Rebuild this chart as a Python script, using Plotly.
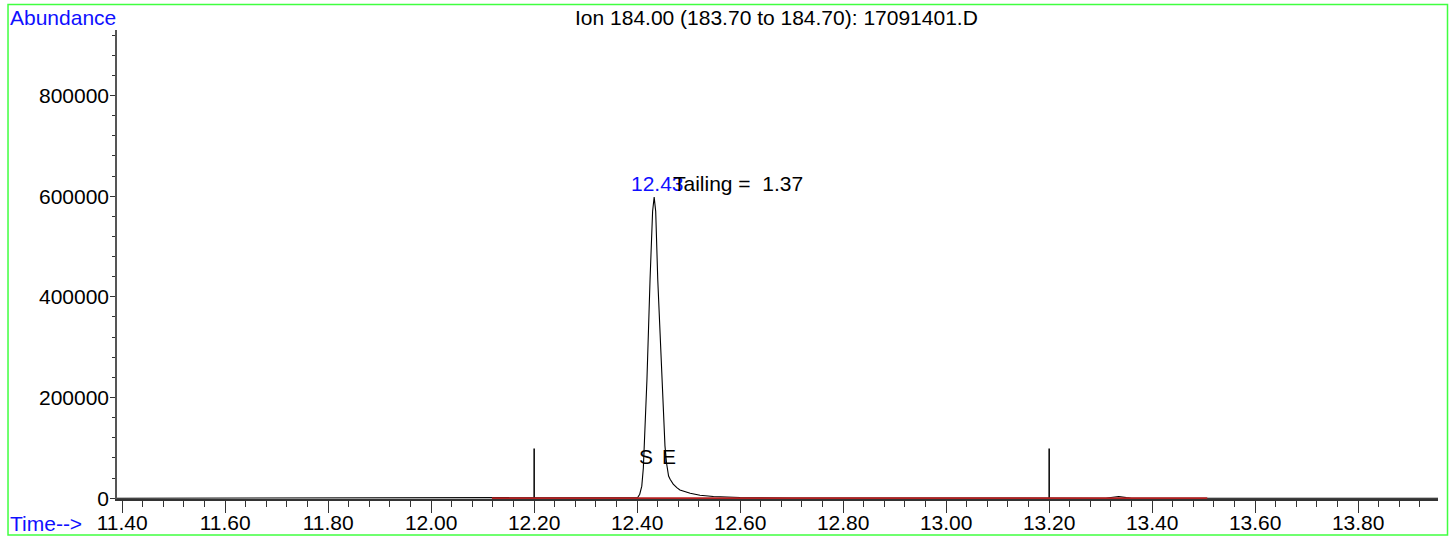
import plotly.graph_objects as go

# ---- data ----
time_min = [11.39, 11.80, 12.10, 12.38, 12.395, 12.401, 12.405, 12.409, 12.412, 12.414,
            12.419, 12.425, 12.430, 12.433, 12.436, 12.440, 12.448, 12.454, 12.457,
            12.461, 12.464, 12.470, 12.477, 12.483, 12.503, 12.522, 12.548, 12.600,
            12.700, 12.850, 13.000, 13.310, 13.320, 13.335, 13.350, 13.360, 13.600, 13.955]
abundance = [0, 0, 0, 0, 300, 1500, 8000, 24000, 60000, 104000,
             236000, 434000, 570000, 598000, 570000, 434000, 236000, 104000, 70000,
             44000, 37600, 28000, 21000, 16400, 9900, 5900, 3400, 1400,
             600, 200, 0, 0, 1500, 3500, 1200, 0, 0, 0]

baseline_t = [12.118, 13.507]
baseline_y = [0, 0]

marker_times = [12.20, 13.20]
marker_height = 99000

peak_rt = 12.43
peak_rt_label = "12.43"
tailing_label = "Tailing =  1.37"
start_t, end_t = 12.399, 12.444
se_level = 82000
label_level = 625000

title_text = "Ion 184.00 (183.70 to 184.70): 17091401.D"
x_tickvals = [11.40, 11.60, 11.80, 12.00, 12.20, 12.40, 12.60, 12.80, 13.00, 13.20, 13.40, 13.60, 13.80]
x_ticktext = ["%.2f" % v for v in x_tickvals]
y_tickvals = [0, 200000, 400000, 600000, 800000]
y_ticktext = [str(v) for v in y_tickvals]

FONT = "Liberation Sans, Arial, Helvetica, sans-serif"
FS = 21

fig = go.Figure()

fig.add_trace(go.Scatter(x=time_min, y=abundance, mode="lines",
                         line=dict(color="black", width=1.1), hoverinfo="skip"))

for t in marker_times:
    fig.add_trace(go.Scatter(x=[t, t], y=[0, marker_height], mode="lines",
                             line=dict(color="black", width=1.5), hoverinfo="skip"))

fig.add_trace(go.Scatter(x=baseline_t, y=baseline_y, mode="lines",
                         line=dict(color="#b52020", width=2), hoverinfo="skip"))

# peak annotations
fig.add_annotation(x=peak_rt + 0.01, y=label_level, xref="x", yref="y", text=peak_rt_label,
                   showarrow=False, xanchor="center", yanchor="middle",
                   font=dict(family=FONT, size=FS, color="#1010ff"))
fig.add_annotation(x=12.465, y=label_level, xref="x", yref="y", text=tailing_label,
                   showarrow=False, xanchor="left", yanchor="middle",
                   font=dict(family=FONT, size=FS, color="black"))
fig.add_annotation(x=start_t, y=se_level, xref="x", yref="y", text="S",
                   showarrow=False, xanchor="left", yanchor="middle",
                   font=dict(family=FONT, size=FS, color="black"))
fig.add_annotation(x=end_t, y=se_level, xref="x", yref="y", text="E",
                   showarrow=False, xanchor="left", yanchor="middle",
                   font=dict(family=FONT, size=FS, color="black"))

# frame texts
fig.add_annotation(x=-0.0825, y=1.0256, xref="paper", yref="paper", text="Abundance",
                   showarrow=False, xanchor="left", yanchor="middle",
                   font=dict(family=FONT, size=FS, color="#1010ff"))
fig.add_annotation(x=-0.0825, y=-0.0512, xref="paper", yref="paper", text="Time-->",
                   showarrow=False, xanchor="left", yanchor="middle",
                   font=dict(family=FONT, size=FS, color="#1010ff"))
fig.add_annotation(x=0.4996, y=1.0256, xref="paper", yref="paper", text=title_text,
                   showarrow=False, xanchor="center", yanchor="middle",
                   font=dict(family=FONT, size=FS, color="black"))

# green border
fig.add_shape(type="rect", xref="paper", yref="paper",
              x0=-0.0825, x1=1.0072, y0=-0.0768, y1=1.0544,
              line=dict(color="#40ff40", width=1.5), fillcolor="rgba(0,0,0,0)", layer="above")

fig.update_layout(
    template="none",
    width=1455, height=537,
    margin=dict(l=117, r=17, t=30, b=38, autoexpand=False),
    paper_bgcolor="white", plot_bgcolor="white",
    showlegend=False,
    font=dict(family=FONT, size=FS, color="black"),
)
fig.update_xaxes(range=[11.39, 13.955], showgrid=False, zeroline=False, automargin=False,
                 showline=True, linecolor="#333333", linewidth=2,
                 tickmode="array", tickvals=x_tickvals, ticktext=x_ticktext,
                 ticks="outside", ticklen=12, tickwidth=1.2, tickcolor="#333333",
                 ticklabelstandoff=-8,
                 minor=dict(dtick=0.04, tick0=11.40, ticks="outside", ticklen=6,
                            tickwidth=1.2, tickcolor="#333333", showgrid=False),
                 layer="below traces", tickfont=dict(family=FONT, size=FS, color="black"))
fig.update_yaxes(range=[-1500, 930000], showgrid=False, zeroline=False, automargin=False,
                 showline=True, linecolor="#555555", linewidth=1.5,
                 tickmode="array", tickvals=y_tickvals, ticktext=y_ticktext,
                 ticks="outside", ticklen=5, tickwidth=1, tickcolor="#333333",
                 ticklabelstandoff=-3,
                 minor=dict(dtick=40000, tick0=0, ticks="outside", ticklen=3,
                            tickwidth=1, tickcolor="#333333", showgrid=False),
                 layer="below traces", tickfont=dict(family=FONT, size=FS, color="black"))

fig.write_html("out.html", config={"displayModeBar": False},
               post_script="document.body.style.margin='0';document.body.style.overflow='hidden';")
